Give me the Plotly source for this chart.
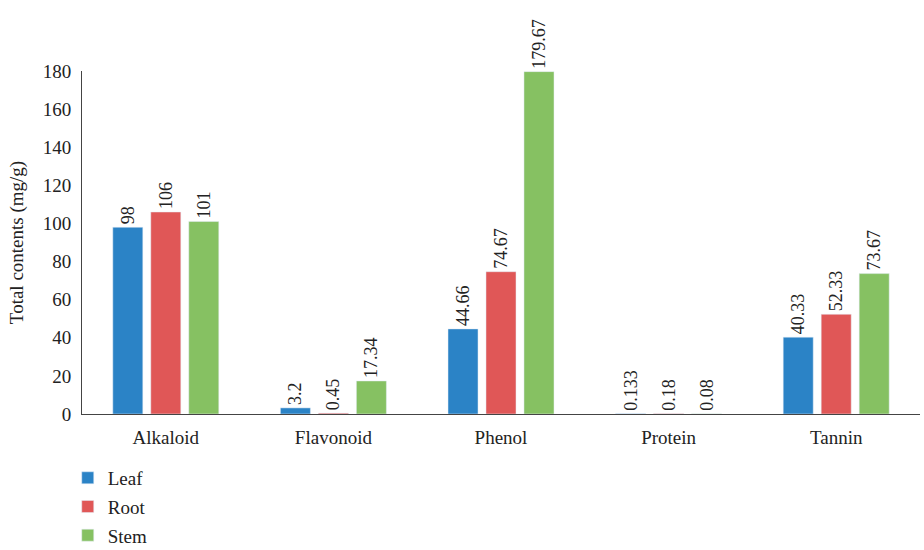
import plotly.graph_objects as go

categories = ["Alkaloid", "Flavonoid", "Phenol", "Protein", "Tannin"]
leaf = [98, 3.2, 44.66, 0.133, 40.33]
root = [106, 0.45, 74.67, 0.18, 52.33]
stem = [101, 17.34, 179.67, 0.08, 73.67]
leaf_labels = ["98", "3.2", "44.66", "0.133", "40.33"]
root_labels = ["106", "0.45", "74.67", "0.18", "52.33"]
stem_labels = ["101", "17.34", "179.67", "0.08", "73.67"]
y_ticks = [0, 20, 40, 60, 80, 100, 120, 140, 160, 180]

series = [
    ("Leaf", leaf, leaf_labels, "#2B83C6"),
    ("Root", root, root_labels, "#E05757"),
    ("Stem", stem, stem_labels, "#86C162"),
]

FONT = "Liberation Serif"
fig = go.Figure()
for name, vals, labs, col in series:
    fig.add_trace(go.Bar(
        x=categories, y=vals, name=name, marker_color=col,
        text=labs, textposition="outside", textangle=-90,
        textfont=dict(family=FONT, size=18, color="#222"),
        cliponaxis=False, constraintext="none", legendgroup=name,
    ))

fig.update_layout(
    width=924, height=550,
    margin=dict(l=82, r=4, t=71, b=136, autoexpand=False),
    paper_bgcolor="white", plot_bgcolor="white",
    barmode="group", bargap=0.32, bargroupgap=0.21,
    font=dict(family=FONT, size=19, color="#222"),
    showlegend=True,
    legend=dict(orientation="v", x=-0.017, xanchor="left", y=-0.131, yanchor="top",
                font=dict(family=FONT, size=19), tracegroupgap=1, itemwidth=30),
    xaxis=dict(showline=True, linecolor="#444", linewidth=1, ticks="",
               ticklabelstandoff=6, tickfont=dict(family=FONT, size=19)),
    yaxis=dict(range=[0, 180], tickvals=y_ticks, showline=True, linecolor="#444",
               linewidth=1, showgrid=False, zeroline=False, ticks="",
               ticklabelstandoff=6, tickfont=dict(family=FONT, size=19),
               title=dict(text="Total contents (mg/g)", font=dict(family=FONT, size=19), standoff=14)),
)

fig.write_html("out.html")
